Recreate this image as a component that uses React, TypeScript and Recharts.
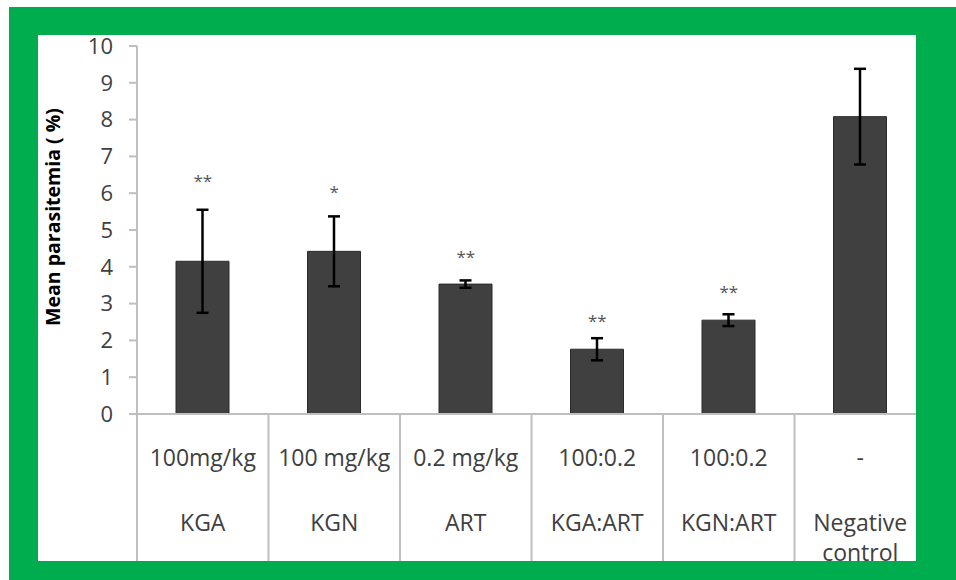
import { Bar, ComposedChart, ErrorBar, Label, Line, XAxis, YAxis } from "recharts";

const groups = ["KGA", "KGN", "ART", "KGA:ART", "KGN:ART", "Negative control"];
const doses = ["100mg/kg", "100 mg/kg", "0.2 mg/kg", "100:0.2", "100:0.2", "-"];
const meanParasitemia = [4.15, 4.42, 3.53, 1.76, 2.55, 8.08];
const stdErrors = [1.4, 0.95, 0.1, 0.3, 0.16, 1.3];
const significance = ["**", "*", "**", "**", "**", ""];
// height (in % units) where the significance stars sit
const starLevel = [6.44, 6.14, 4.38, 2.64, 3.42, null];
const yTicks = [0, 1, 2, 3, 4, 5, 6, 7, 8, 9, 10];

const data = groups.map((g, i) => ({
  group: g,
  dose: doses[i],
  mean: meanParasitemia[i],
  err: stdErrors[i],
  sig: significance[i],
  star: starLevel[i],
}));

const FONT = "'Open Sans', 'Noto Sans', sans-serif";
const GRID = "#bfbfbf";
const TEXT = "#404040";

function CategoryTick(props: any) {
  const { x, y, payload, index } = props;
  const half = payload?.offset || 65.75;
  const row = data[index];
  const lines = String(payload.value).split(" ");
  return (
    <g>
      <line x1={x - half} x2={x - half} y1={y} y2={y + 200} stroke={GRID} strokeWidth={2} />
      {index === data.length - 1 && (
        <line x1={x + half} x2={x + half} y1={y} y2={y + 200} stroke={GRID} strokeWidth={2} />
      )}
      <text x={x} y={y + 52} textAnchor="middle" fontFamily={FONT} fontSize={23} fill={TEXT}>
        {row?.dose}
      </text>
      {lines.map((l, i) => (
        <text key={i} x={x} y={y + 117 + i * 30} textAnchor="middle" fontFamily={FONT} fontSize={23} fill={TEXT}>
          {l}
        </text>
      ))}
    </g>
  );
}

function StarDot(props: any) {
  const { cx, cy, payload, index } = props;
  if (cx == null || cy == null || !payload?.sig) return <g key={index} />;
  return (
    <text key={index} x={cx} y={cy + 10} textAnchor="middle" fontFamily={FONT} fontSize={17} fill="#555">
      {payload.sig}
    </text>
  );
}

function YTitle(props: any) {
  const vb = props.viewBox || { x: 0, y: 11, width: 99, height: 368 };
  const cx = vb.x + 14;
  const cy = vb.y + vb.height / 2 - 13;
  return (
    <text
      x={cx}
      y={cy}
      transform={`rotate(-90 ${cx} ${cy})`}
      textAnchor="middle"
      dominantBaseline="central"
      fontFamily={FONT}
      fontWeight="bold"
      fontSize={19.5}
      fill="#000"
    >
      Mean parasitemia ( %)
    </text>
  );
}

export default function App() {
  return (
    <div style={{ position: "absolute", left: 0, top: 0, width: 956, height: 580, background: "#fff" }}>
      <div style={{ position: "absolute", left: 9, top: 7, width: 947, height: 573, background: "#00ad4e" }} />
      <div
        style={{
          position: "absolute",
          left: 38,
          top: 35,
          width: 878,
          height: 526,
          background: "#fff",
          overflow: "hidden",
        }}
      >
        <ComposedChart width={890} height={526} data={data} margin={{ top: 11, right: 2, left: 0, bottom: 0 }}>
          <XAxis
            dataKey="group"
            interval={0}
            height={147}
            tickLine={false}
            tickSize={0}
            tickMargin={0}
            axisLine={{ stroke: GRID, strokeWidth: 2 }}
            tick={<CategoryTick />}
          />
          <YAxis
            width={99}
            domain={[0, 10]}
            ticks={yTicks}
            interval={0}
            tickSize={8}
            tickMargin={16}
            axisLine={{ stroke: GRID, strokeWidth: 2 }}
            tickLine={{ stroke: GRID, strokeWidth: 2 }}
            tick={{ fill: TEXT, fontFamily: FONT, fontSize: 22 }}
          >
            <Label content={<YTitle />} />
          </YAxis>
          <Bar dataKey="mean" barSize={53} fill="#404040" stroke="#2b2b2b" strokeWidth={1} isAnimationActive={false}>
            <ErrorBar dataKey="err" width={6} stroke="#000" strokeWidth={2.5} isAnimationActive={false} />
          </Bar>
          <Line
            dataKey="star"
            stroke="none"
            dot={<StarDot />}
            activeDot={false}
            legendType="none"
            connectNulls={false}
            isAnimationActive={false}
          />
        </ComposedChart>
      </div>
    </div>
  );
}
